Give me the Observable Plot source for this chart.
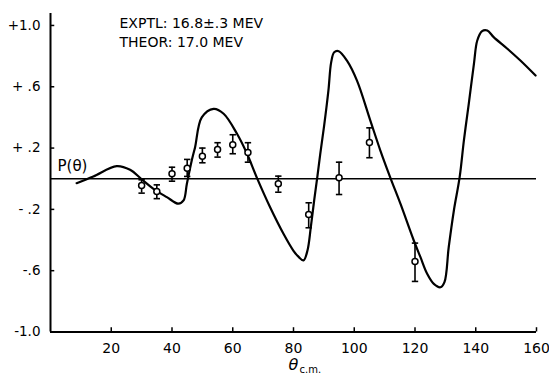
<!DOCTYPE html>
<html>
<head>
<meta charset="utf-8">
<script src="https://cdn.jsdelivr.net/npm/d3@7"></script>
<script src="https://cdn.jsdelivr.net/npm/@observablehq/plot@0.6"></script>
<style>
  html, body { margin: 0; padding: 0; background: #fff; }
  #chart svg { display: block; }
</style>
</head>
<body>
<div id="chart"></div>
<script>
// Experimental points: angle (deg c.m.), polarization, error-bar low/high
const expTheta = [30, 35, 40, 45, 50, 55, 60, 65, 75, 85, 95, 105, 120];
const expP     = [-0.045, -0.083, 0.032, 0.069, 0.147, 0.191, 0.222, 0.171, -0.033, -0.233, 0.006, 0.237, -0.54];
const expLo    = [-0.094, -0.13, -0.016, 0.015, 0.104, 0.141, 0.163, 0.108, -0.088, -0.32, -0.103, 0.137, -0.67];
const expHi    = [-0.007, -0.04, 0.075, 0.126, 0.2, 0.235, 0.287, 0.235, 0.017, -0.157, 0.108, 0.332, -0.42];

// Theoretical curve (17.0 MeV)
const theoTheta = [8.6, 14.1, 21.8, 26.2, 30.1, 33.9, 38.3, 42.1, 43.8, 44.9, 46.5, 47.6, 49.8, 53.7, 57.0, 61.4, 64.7, 68.0, 72.3, 76.7, 80.0, 81.7, 83.3, 84.6, 85.7, 86.8, 87.9, 88.8, 90.1, 91.5, 92.4, 93.4, 94.9, 97.6, 100.9, 105.3, 108.6, 111.9, 115.2, 119.6, 121.8, 124.0, 126.2, 128.4, 129.7, 131.1, 132.8, 134.7, 136.1, 137.7, 139.4, 140.5, 142.1, 143.8, 145.9, 150.4, 154.7, 159.7];
const theoP     = [-0.029, 0.015, 0.082, 0.058, -0.005, -0.066, -0.12, -0.163, -0.142, -0.033, 0.119, 0.206, 0.40, 0.456, 0.424, 0.293, 0.163, 0.004, -0.186, -0.359, -0.47, -0.51, -0.533, -0.468, -0.316, -0.142, 0.02, 0.16, 0.348, 0.576, 0.759, 0.825, 0.832, 0.77, 0.64, 0.379, 0.184, 0.006, -0.163, -0.403, -0.512, -0.62, -0.686, -0.708, -0.675, -0.447, -0.207, 0.01, 0.25, 0.489, 0.75, 0.902, 0.963, 0.967, 0.924, 0.848, 0.771, 0.673];

// Axis ticks
const xTicks = [20, 40, 60, 80, 100, 120, 140, 160];
const yTicks = [-1.0, -0.6, -0.2, 0.2, 0.6, 1.0];
const yTickLabels = ["-1.0", "-.6", "- .2", "+ .2", "+ .6", "+1.0"];

const points = expTheta.map((t, i) => ({theta: t, p: expP[i], lo: expLo[i], hi: expHi[i]}));
const curve = theoTheta.map((t, i) => ({theta: t, p: theoP[i]}));

const capSymbol = {
  draw(context, size) {
    const w = Math.sqrt(size) / 2;
    context.moveTo(-w, 0);
    context.lineTo(w, 0);
  }
};

const font = "DejaVu Sans, sans-serif";

const chart = Plot.plot({
  width: 549,
  height: 379,
  marginLeft: 50,
  marginRight: 13,
  marginTop: 13,
  marginBottom: 47.5,
  style: {fontFamily: font, background: "#fff", color: "#000"},
  x: {domain: [0, 160], axis: null},
  y: {domain: [-1, 1.078], axis: null},
  marks: [
    // axis lines
    Plot.ruleX([0], {stroke: "#000", strokeWidth: 2}),
    Plot.ruleY([-1], {x1: 0, x2: 160, stroke: "#000", strokeWidth: 2}),
    // tick marks pointing inward
    Plot.ruleY(yTicks, {x1: 0, x2: 1.4, stroke: "#000", strokeWidth: 1.5}),
    Plot.ruleX(xTicks, {y1: -1, y2: -0.972, stroke: "#000", strokeWidth: 1.5}),
    // tick labels
    Plot.axisY(yTicks, {anchor: "left", label: null, tickSize: 0, tickPadding: 10, fontSize: 13.5,
      tickFormat: d => yTickLabels[yTicks.indexOf(d)]}),
    Plot.axisX(xTicks, {anchor: "bottom", label: null, tickSize: 0, tickPadding: 11, fontSize: 14,
      tickFormat: d => String(d)}),
    // zero line
    Plot.ruleY([0], {x1: 0, x2: 160, stroke: "#000", strokeWidth: 1.6}),
    // theory curve
    Plot.line(curve, {x: "theta", y: "p", curve: "catmull-rom", stroke: "#000", strokeWidth: 2.2}),
    // error bars
    Plot.ruleX(points, {x: "theta", y1: "lo", y2: "hi", stroke: "#000", strokeWidth: 1.6}),
    Plot.dot(points, {x: "theta", y: "lo", symbol: capSymbol, r: 3.6, stroke: "#000", strokeWidth: 1.6, fill: "none"}),
    Plot.dot(points, {x: "theta", y: "hi", symbol: capSymbol, r: 3.6, stroke: "#000", strokeWidth: 1.6, fill: "none"}),
    Plot.dot(points, {x: "theta", y: "p", r: 3, fill: "#fff", stroke: "#000", strokeWidth: 1.5}),
    // annotations
    Plot.text(["EXPTL: 16.8±.3 MEV\nTHEOR: 17.0 MEV"], {frameAnchor: "top-left", dx: 69, dy: 2,
      textAnchor: "start", lineAnchor: "top", lineHeight: 1.3, fontSize: 14, fill: "#000"}),
    Plot.text(["P(θ)"], {frameAnchor: "top-left", dx: 7, dy: 147, textAnchor: "start", lineAnchor: "top", fontSize: 15, fill: "#000"}),
    Plot.text(["θ"], {frameAnchor: "bottom", dx: 0, dy: 33, textAnchor: "middle", lineAnchor: "middle", fontSize: 16, fontStyle: "italic", fill: "#000"}),
    Plot.text(["c.m."], {frameAnchor: "bottom", dx: 6, dy: 38, textAnchor: "start", lineAnchor: "middle", fontSize: 10, fill: "#000"})
  ]
});

document.getElementById("chart").appendChild(chart);
</script>
</body>
</html>
